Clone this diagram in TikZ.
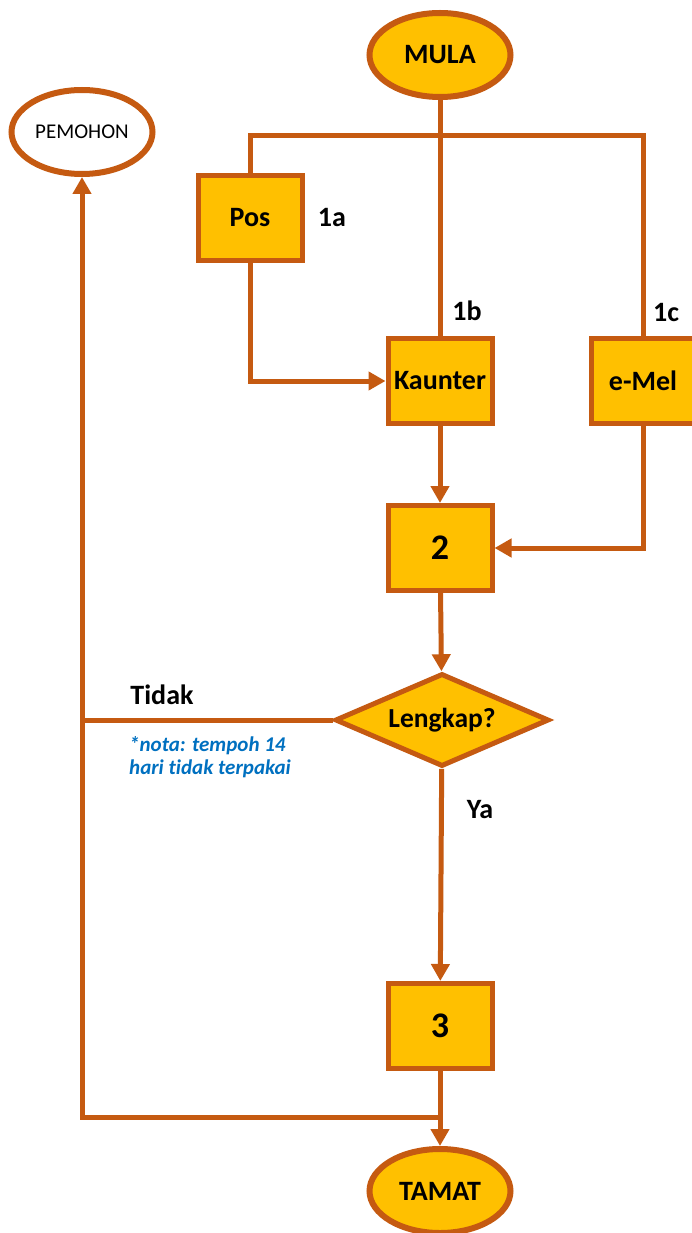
\documentclass[tikz,border=0pt]{standalone}
\usepackage{fontspec}
\setmainfont{Carlito}[Ligatures={NoCommon}]
\usetikzlibrary{shapes.geometric,arrows.meta}
\definecolor{brd}{HTML}{C55A11}
\definecolor{fil}{HTML}{FFC000}
\definecolor{notec}{HTML}{0070C0}
\begin{document}
\begin{tikzpicture}[x=1pt,y=-1pt,
  term/.style={ellipse,draw=brd,line width=6pt,fill=fil,minimum width=141pt,minimum height=84pt,inner sep=0pt,font=\fontsize{28}{30}\selectfont\bfseries},
  plainterm/.style={ellipse,draw=brd,line width=6pt,fill=white,minimum width=141pt,minimum height=84pt,inner sep=0pt,font=\fontsize{21}{24}\selectfont},
  proc/.style={rectangle,draw=brd,line width=5pt,fill=fil,minimum width=104pt,minimum height=85pt,inner sep=0pt,font=\fontsize{28}{30}\selectfont\bfseries},
  bigproc/.style={proc,font=\fontsize{36}{40}\selectfont\bfseries},
  decision/.style={diamond,aspect=2.3,draw=brd,line width=5pt,fill=fil,minimum width=214pt,minimum height=93pt,inner sep=0pt,line join=miter,font=\fontsize{27.5}{30}\selectfont\bfseries},
  lbl/.style={inner sep=0pt,font=\fontsize{28}{30}\selectfont\bfseries},
  notetxt/.style={inner sep=0pt,align=left,text=notec,font=\fontsize{21}{23}\selectfont\bfseries\itshape},
  conn/.style={draw=brd,line width=5pt,line join=miter},
  arr/.style={conn,-{Triangle[width=18pt,length=17pt]}}
]
\useasboundingbox (0,0) rectangle (692,1233);

% nodes
\node[term] (mula) at (440,55) {MULA};
\node[plainterm] (pem) at (82,132) {PEMOHON};
\node[proc] (pos) at (250,218) {Pos};
\node[proc] (kaunter) at (440,381) {Kaunter};
\node[proc] (emel) at (643,381) {e-Mel};
\node[bigproc] (b2) at (440,548) {2};
\node[decision] (dec) at (442,720) {Lengkap?};
\node[bigproc] (b3) at (440,1026) {3};
\node[term] (tamat) at (440,1191) {TAMAT};

% labels
\node[lbl] (l1a) at (332,218) {1a};
\node[lbl] (l1b) at (467,311) {1b};
\node[lbl] (l1c) at (666,313) {1c};
\node[lbl] (ltidak) at (162,695) {Tidak};
\node[lbl] (lya) at (480,810) {Ya};
\node[notetxt,anchor=west] (nota) at (129,757) {*nota: tempoh 14\\hari tidak terpakai};

% junction coordinates
\coordinate (j) at (440,136);
\coordinate (bl) at (82,1117);

% connectors
\draw[conn] (mula) -- (kaunter);
\draw[conn] (pos.north) |- (j) -| (emel.north);
\draw[arr] (pos.south) |- (kaunter.west);
\draw[arr] (kaunter) -- (b2);
\draw[arr] (emel.south) |- (b2.east);
\draw[arr] (b2) -- (dec);
\draw[arr] (dec) -- (b3);
\draw[arr] (b3) -- (tamat);
\draw[conn] (dec.west) -- (dec.west -| bl);
\draw[arr] (b3.south |- bl) -- (bl) -- (pem.south);
\end{tikzpicture}
\end{document}
